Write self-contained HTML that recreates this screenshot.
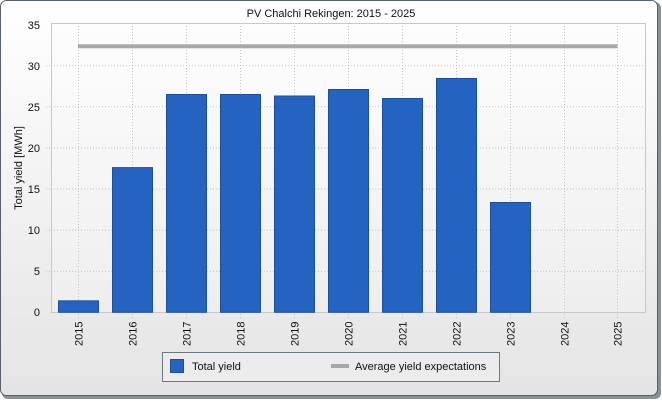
<!DOCTYPE html><html><head><style>body{margin:0;width:662px;height:400px;overflow:hidden;background:#fff}</style></head><body>
<svg width="662" height="400" xmlns="http://www.w3.org/2000/svg" font-family="Liberation Sans, sans-serif" font-size="11">
<defs><linearGradient id="bg" x1="0" y1="0" x2="0" y2="1"><stop offset="0" stop-color="#ffffff"/><stop offset="1" stop-color="#e4e4e4"/></linearGradient>
<linearGradient id="pb" x1="0" y1="0" x2="0" y2="1"><stop offset="0" stop-color="#fdfdfd"/><stop offset="1" stop-color="#eeeeee"/></linearGradient></defs>
<rect x="2" y="2" width="659" height="397" rx="6" fill="#8a9096"/>
<rect x="0.5" y="0.5" width="657" height="395" rx="6" fill="url(#bg)" stroke="#56616b"/>
<text x="331" y="17" text-anchor="middle" fill="#111">PV Chalchi Rekingen: 2015 - 2025</text>
<rect x="51.5" y="23.5" width="594" height="289" fill="url(#pb)" stroke="#c8c8c8"/>
<g stroke="#c4c4c4" stroke-dasharray="1,2">
<line x1="51" y1="65.7" x2="645" y2="65.7"/><line x1="51" y1="106.8" x2="645" y2="106.8"/><line x1="51" y1="147.9" x2="645" y2="147.9"/><line x1="51" y1="189" x2="645" y2="189"/><line x1="51" y1="230.1" x2="645" y2="230.1"/><line x1="51" y1="271.2" x2="645" y2="271.2"/>
<line x1="78.5" y1="23" x2="78.5" y2="318"/><line x1="132.5" y1="23" x2="132.5" y2="318"/><line x1="186.5" y1="23" x2="186.5" y2="318"/><line x1="240.5" y1="23" x2="240.5" y2="318"/><line x1="294.5" y1="23" x2="294.5" y2="318"/><line x1="348.5" y1="23" x2="348.5" y2="318"/><line x1="402.5" y1="23" x2="402.5" y2="318"/><line x1="456.5" y1="23" x2="456.5" y2="318"/><line x1="510.5" y1="23" x2="510.5" y2="318"/><line x1="564.5" y1="23" x2="564.5" y2="318"/><line x1="617.5" y1="23" x2="617.5" y2="318"/>
<line x1="46" y1="65.7" x2="51" y2="65.7"/><line x1="46" y1="106.8" x2="51" y2="106.8"/><line x1="46" y1="147.9" x2="51" y2="147.9"/><line x1="46" y1="189" x2="51" y2="189"/><line x1="46" y1="230.1" x2="51" y2="230.1"/><line x1="46" y1="271.2" x2="51" y2="271.2"/>
</g>
<g fill="#2563c0" stroke="#1d4f9a">
<rect x="58.5" y="300.8" width="40" height="11.5"/>
<rect x="112.5" y="167.6" width="40" height="144.7"/>
<rect x="166.5" y="94.5" width="40" height="217.8"/>
<rect x="220.5" y="94.5" width="40" height="217.8"/>
<rect x="274.5" y="96" width="40" height="216.3"/>
<rect x="328.5" y="89.5" width="40" height="222.8"/>
<rect x="382.5" y="98.5" width="40" height="213.8"/>
<rect x="436.5" y="78.5" width="40" height="233.8"/>
<rect x="490.5" y="202.5" width="40" height="109.8"/>
</g>
<rect x="78" y="44.3" width="539.5" height="4" fill="#a8a8a8"/>
<g text-anchor="end" fill="#111">
<text x="40" y="29">35</text><text x="40" y="70">30</text><text x="40" y="111">25</text><text x="40" y="152">20</text><text x="40" y="193">15</text><text x="40" y="234">10</text><text x="40" y="275">5</text><text x="40" y="316">0</text>
</g>
<text transform="translate(22,168) rotate(-90)" text-anchor="middle" fill="#111">Total yield [MWh]</text>
<g fill="#111">
<text transform="translate(82.5,346) rotate(-90)">2015</text><text transform="translate(136.5,346) rotate(-90)">2016</text><text transform="translate(190.5,346) rotate(-90)">2017</text><text transform="translate(244.5,346) rotate(-90)">2018</text><text transform="translate(298.5,346) rotate(-90)">2019</text><text transform="translate(352.5,346) rotate(-90)">2020</text><text transform="translate(406.5,346) rotate(-90)">2021</text><text transform="translate(460.5,346) rotate(-90)">2022</text><text transform="translate(514.5,346) rotate(-90)">2023</text><text transform="translate(568.5,346) rotate(-90)">2024</text><text transform="translate(621.5,346) rotate(-90)">2025</text>
</g>
<rect x="162.5" y="352.5" width="337" height="29" fill="#ececec" stroke="#6d7880"/>
<rect x="170.5" y="359.5" width="13" height="13" fill="#2563c0" stroke="#1d4f9a"/>
<text x="192" y="370" fill="#111">Total yield</text>
<rect x="331" y="364" width="18" height="4" fill="#a8a8a8"/>
<text x="355" y="370" fill="#111">Average yield expectations</text>
</svg></body></html>
